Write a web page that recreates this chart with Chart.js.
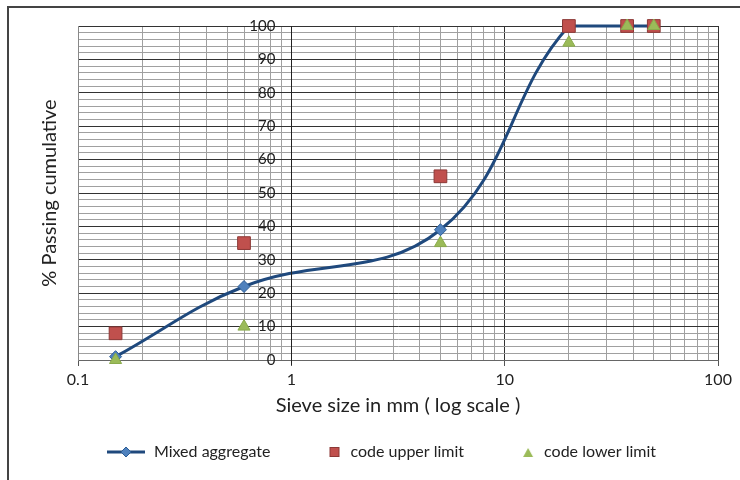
<!DOCTYPE html>
<html>
<head>
<meta charset="utf-8">
<script src="https://cdn.jsdelivr.net/npm/chart.js@4.4.1/dist/chart.umd.min.js"></script>
<style>
  html, body { margin: 0; padding: 0; background: #fff; overflow: hidden; }
  #wrap { position: relative; width: 740px; height: 480px; }
  #marco { position: absolute; left: 7px; top: 6px; width: 800px; height: 600px; border: 2px solid #444; box-sizing: border-box; }
  canvas { position: absolute; left: 0; top: 0; }
</style>
</head>
<body>
<div id="wrap">
  <div id="marco"></div>
  <canvas id="grafico" width="740" height="480"></canvas>
</div>
<script>
// Tamaños de tamiz (mm) y porcentajes que pasan
const tamices = [0.15, 0.6, 5, 20, 37.5, 50];
const mezcla = [1, 22, 39, 100, 100, 100];
const limiteSuperior = [8, 35, 55, 100, 100, 100];
const limiteInferior = [0, 10, 35, 95, 100, 100];

// Marcas de los ejes
const marcasX = [0.1, 0.2, 0.3, 0.4, 0.5, 0.6, 0.7, 0.8, 0.9, 1, 2, 3, 4, 5, 6, 7, 8, 9, 10,
  20, 30, 40, 50, 60, 70, 80, 90, 100];
const etiquetasX = [0.1, 1, 10, 100];
const etiquetasY = [0, 10, 20, 30, 40, 50, 60, 70, 80, 90, 100];

const fuente = "Lato, 'Liberation Sans', sans-serif";
const esDecada = v => etiquetasX.some(d => Math.abs(d - v) < 1e-9);

function puntos(valores) {
  return tamices.map((x, i) => ({ x: x, y: valores[i] }));
}

// Iconos de la leyenda (50 px de ancho, dibujo pegado a la derecha)
function iconoLinea() {
  const c = document.createElement('canvas');
  c.width = 50; c.height = 12;
  const g = c.getContext('2d');
  g.strokeStyle = '#1f497d';
  g.lineWidth = 3;
  g.beginPath(); g.moveTo(11, 6); g.lineTo(49, 6); g.stroke();
  g.fillStyle = '#4f81bd';
  g.strokeStyle = '#2c5d96';
  g.lineWidth = 1;
  g.beginPath(); g.moveTo(30, 1); g.lineTo(35, 6); g.lineTo(30, 11); g.lineTo(25, 6); g.closePath();
  g.fill(); g.stroke();
  return c;
}
function iconoCuadro() {
  const c = document.createElement('canvas');
  c.width = 50; c.height = 12;
  const g = c.getContext('2d');
  g.fillStyle = '#c0504d';
  g.strokeStyle = '#8c3836';
  g.fillRect(37, 1, 10, 10);
  g.strokeRect(37.5, 1.5, 9, 9);
  return c;
}
function iconoTriangulo() {
  const c = document.createElement('canvas');
  c.width = 50; c.height = 12;
  const g = c.getContext('2d');
  g.fillStyle = '#9bbb59';
  g.beginPath(); g.moveTo(42, 2); g.lineTo(47, 11); g.lineTo(37, 11); g.closePath();
  g.fill();
  return c;
}

// Etiquetas del eje Y dibujadas donde el eje cruza x = 1
const etiquetasEjeY = {
  id: 'etiquetasEjeY',
  afterDatasetsDraw(chart) {
    const ctx = chart.ctx;
    const px = chart.scales.x.getPixelForValue(1);
    ctx.save();
    ctx.strokeStyle = '#222';
    ctx.lineWidth = 1;
    ctx.beginPath();
    ctx.moveTo(Math.round(px) + 0.5, chart.chartArea.top);
    ctx.lineTo(Math.round(px) + 0.5, chart.chartArea.bottom + 5);
    ctx.stroke();
    ctx.font = '15px ' + fuente;
    ctx.fillStyle = '#222';
    ctx.textAlign = 'right';
    ctx.textBaseline = 'middle';
    etiquetasY.forEach(v => {
      const py = chart.scales.y.getPixelForValue(v);
      ctx.fillText(String(v), px - 16, py);
    });
    ctx.restore();
  }
};

const ctx = document.getElementById('grafico').getContext('2d');
new Chart(ctx, {
  type: 'scatter',
  data: {
    datasets: [
      {
        label: 'Mixed aggregate',
        data: puntos(mezcla),
        order: 3,
        showLine: true,
        borderColor: '#1f497d',
        borderWidth: 3,
        tension: 0.4,
        pointStyle: 'rectRot',
        pointRadius: 6,
        pointBackgroundColor: '#4f81bd',
        pointBorderColor: '#2c5d96',
        pointBorderWidth: 1,
        clip: false
      },
      {
        label: 'code upper limit',
        data: puntos(limiteSuperior),
        order: 2,
        pointStyle: 'rect',
        pointRadius: 9,
        pointBackgroundColor: '#c0504d',
        pointBorderColor: '#8c3836',
        pointBorderWidth: 1,
        clip: false
      },
      {
        label: 'code lower limit',
        data: puntos(limiteInferior),
        order: 1,
        pointStyle: 'triangle',
        pointRadius: 7,
        pointBackgroundColor: '#9bbb59',
        pointBorderColor: '#8aab4c',
        pointBorderWidth: 1,
        clip: false
      }
    ]
  },
  options: {
    responsive: false,
    animation: false,
    layout: { padding: { left: 34, right: 22, top: 26, bottom: 10 } },
    plugins: {
      tooltip: { enabled: false },
      legend: {
        position: 'bottom',
        labels: {
          color: '#222',
          font: { family: fuente, size: 16 },
          usePointStyle: true,
          pointStyleWidth: 50,
          boxHeight: 12,
          padding: 22,
          generateLabels(chart) {
            const base = Chart.defaults.plugins.legend.labels.generateLabels(chart);
            const estilos = [iconoLinea(), iconoCuadro(), iconoTriangulo()];
            base.sort((a, b) => a.datasetIndex - b.datasetIndex);
            return base.map(l => {
              l.pointStyle = estilos[l.datasetIndex];
              l.lineWidth = 0;
              return l;
            });
          }
        }
      }
    },
    scales: {
      x: {
        type: 'logarithmic',
        min: 0.1,
        max: 100,
        afterBuildTicks(scale) {
          scale.ticks = marcasX.map(v => ({ value: v }));
        },
        afterFit(scale) { scale.height = 62; },
        ticks: {
          autoSkip: false,
          maxRotation: 0,
          color: '#222',
          font: { family: fuente, size: 16 },
          padding: 4,
          callback: v => esDecada(v) ? String(v) : ''
        },
        grid: {
          color: c => esDecada(c.tick.value) ? '#333' : '#a0a0a0',
          tickColor: c => esDecada(c.tick.value) ? '#555' : 'rgba(0,0,0,0)',
          tickLength: 6
        },
        border: { color: '#666' },
        title: {
          display: true,
          text: 'Sieve size in mm ( log scale )',
          color: '#222',
          font: { family: fuente, size: 20 },
          padding: { top: 2 }
        }
      },
      y: {
        min: 0,
        max: 100,
        ticks: { stepSize: 2, display: false },
        afterFit(scale) { scale.width = 44; },
        grid: {
          color: c => c.tick.value % 10 === 0 ? '#333' : '#a0a0a0',
          drawTicks: false
        },
        border: { color: '#888' },
        title: {
          display: true,
          text: '% Passing cumulative',
          color: '#222',
          font: { family: fuente, size: 20 },
          padding: { bottom: 4 }
        }
      }
    }
  },
  plugins: [etiquetasEjeY]
});
</script>
</body>
</html>
